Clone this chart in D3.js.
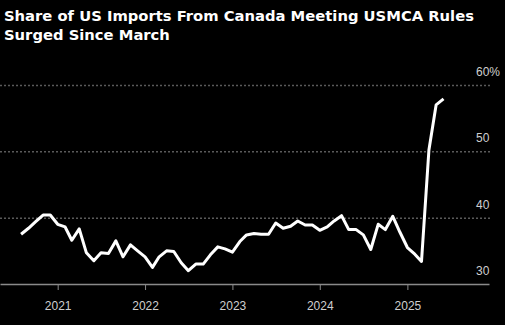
<!DOCTYPE html>
<html>
<head>
<meta charset="utf-8">
<script src="https://cdn.jsdelivr.net/npm/d3@7"></script>
<style>
  html, body { margin: 0; padding: 0; background: #000; }
  svg { display: block; }
</style>
</head>
<body>
<svg id="chart" width="505" height="325"></svg>
<script>
const titleLines = ["Share of US Imports From Canada Meeting USMCA Rules", "Surged Since March"];
const months = [
  "2020-08","2020-09","2020-10","2020-11","2020-12",
  "2021-01","2021-02","2021-03","2021-04","2021-05","2021-06","2021-07","2021-08","2021-09","2021-10","2021-11","2021-12",
  "2022-01","2022-02","2022-03","2022-04","2022-05","2022-06","2022-07","2022-08","2022-09","2022-10","2022-11","2022-12",
  "2023-01","2023-02","2023-03","2023-04","2023-05","2023-06","2023-07","2023-08","2023-09","2023-10","2023-11","2023-12",
  "2024-01","2024-02","2024-03","2024-04","2024-05","2024-06","2024-07","2024-08","2024-09","2024-10","2024-11","2024-12",
  "2025-01","2025-02","2025-03","2025-04","2025-05","2025-06"
];
const shares = [
  37.5, 38.4, 39.4, 40.4, 40.4,
  39.0, 38.6, 36.6, 38.3, 34.7, 33.5, 34.7, 34.6, 36.5, 34.1, 35.9, 35.0,
  34.1, 32.5, 34.1, 35.0, 34.9, 33.2, 32.0, 33.0, 33.0, 34.4, 35.6, 35.3,
  34.8, 36.4, 37.4, 37.6, 37.5, 37.5, 39.2, 38.4, 38.7, 39.5, 38.9, 38.9,
  38.1, 38.6, 39.5, 40.3, 38.2, 38.2, 37.4, 35.2, 39.0, 38.2, 40.2, 37.8,
  35.5, 34.5, 33.4, 50.2, 57.0, 57.9
];
const yTicks = [30, 40, 50, 60];
const xTickYears = [2021, 2022, 2023, 2024, 2025];

const svg = d3.select("#chart");
const parse = d3.timeParse("%Y-%m");
const data = months.map((m, i) => ({ date: parse(m), value: shares[i] }));

const x = d3.scaleTime()
  .domain([new Date(2020, 4, 5), new Date(2025, 11, 8)])
  .range([0, 489]);
const y = d3.scaleLinear().domain([30, 60]).range([284, 85]);

// Title
const title = svg.append("g");
titleLines.forEach((t, i) => {
  title.append("text")
    .attr("x", 4).attr("y", 21 + i * 19)
    .attr("fill", "#fff")
    .attr("font-family", "DejaVu Sans, Verdana, sans-serif")
    .attr("font-weight", "bold")
    .attr("font-size", 15)
    .text(t);
});
const first = title.select("text").node();
const w = first.getComputedTextLength();
const fs = 15 * 470 / w;
title.selectAll("text").attr("font-size", Math.min(16, fs));

// Gridlines
svg.append("g").selectAll("line")
  .data(yTicks.filter(d => d > 30))
  .join("line")
  .attr("x1", 0).attr("x2", 490)
  .attr("y1", d => y(d) + 0.5).attr("y2", d => y(d) + 0.5)
  .attr("stroke", "#5a5a5a")
  .attr("stroke-width", 1.5)
  .attr("stroke-dasharray", "2,2");

// Y labels
svg.append("g").selectAll("text")
  .data(yTicks)
  .join("text")
  .attr("x", 476)
  .attr("y", d => y(d) - 9)
  .attr("fill", "#cfcfcf")
  .attr("font-family", "Liberation Sans, Arial, sans-serif")
  .attr("font-size", 12)
  .text(d => d === 60 ? d + "%" : d);

// X axis
const xAxis = d3.axisBottom(x)
  .tickValues(xTickYears.map(yr => new Date(yr, 0, 1)))
  .tickFormat(d3.timeFormat("%Y"))
  .tickSize(6)
  .tickSizeOuter(0);
const gx = svg.append("g").attr("transform", "translate(0,284)").call(xAxis);
gx.select(".domain").attr("stroke", "#8a8a8a").attr("stroke-width", 1.5);
gx.selectAll(".tick line").attr("stroke", "#8a8a8a").attr("stroke-width", 1);
gx.selectAll(".tick text")
  .attr("fill", "#cfcfcf")
  .attr("font-family", "Liberation Sans, Arial, sans-serif")
  .attr("font-size", 12)
  .attr("dy", 0)
  .attr("y", 26);

// Line
const line = d3.line().x(d => x(d.date)).y(d => y(d.value));
svg.append("path")
  .datum(data)
  .attr("d", line)
  .attr("fill", "none")
  .attr("stroke", "#fff")
  .attr("stroke-width", 3)
  .attr("stroke-linejoin", "round");
</script>
</body>
</html>
